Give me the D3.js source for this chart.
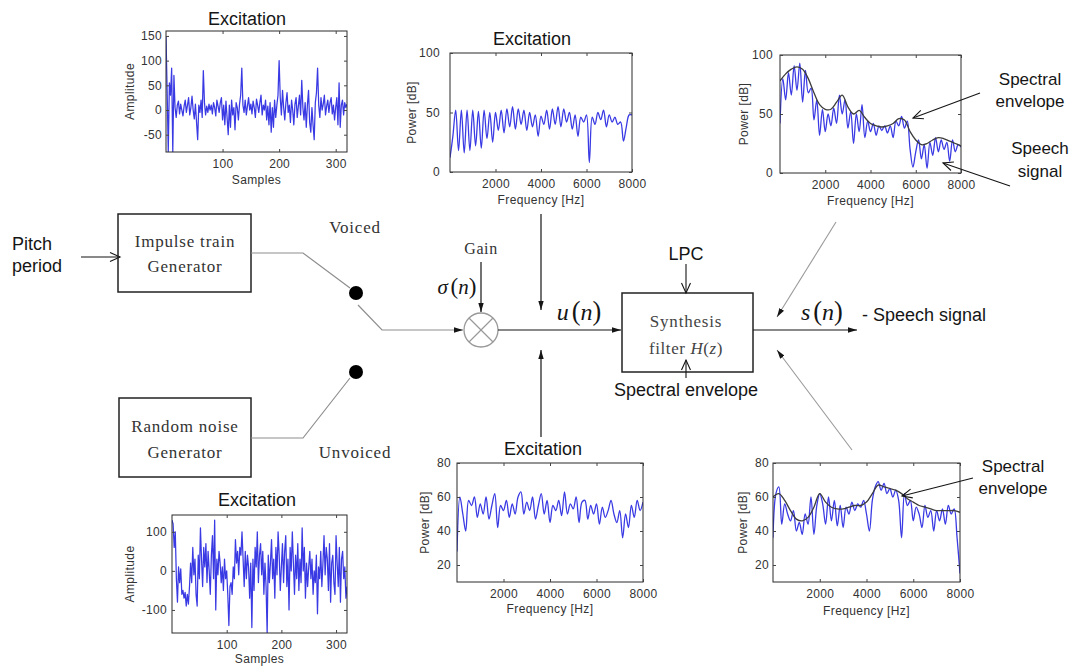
<!DOCTYPE html>
<html>
<head>
<meta charset="utf-8">
<script src="https://cdn.jsdelivr.net/npm/d3@7"></script>
<style>
  html, body { margin: 0; padding: 0; background: #ffffff; }
  svg { display: block; }
</style>
</head>
<body>
<svg id="fig" width="1089" height="668"></svg>
<script>
// ---------------------------------------------------------------
// Signals shown in the six small panels
// ---------------------------------------------------------------

// Voiced excitation, amplitude every 2nd sample (0..320)
const voicedSamples = [
  150, 40, -85, 55, 30, 85, -85, 70, 5, -15,
  10, 18, -8, 12, 0, -12, 8, 20, -5, 10,
  25, -10, 5, 28, 0, -18, 12, -25, -60, 10,
  -5, 20, -15, 80, 15, -10, 8, -5, 12, 0,
  10, -8, 15, 5, -12, 20, 8, -5, 15, 25,
  -20, 10, -30, 18, -15, -50, 10, -35, 20, -10,
  5, -40, 15, 5, -20, 12, 30, 85, 10, -5,
  20, -10, 8, 25, 0, 12, -8, 18, 5, -15,
  22, 10, -5, 15, 30, -10, 10, 0, 20, -20,
  8, -30, 15, -45, 5, -35, 20, -15, 10, 30,
  100, 25, -10, 40, 5, -20, 15, 35, -5, 10,
  -25, 20, 0, -30, 12, 25, -15, 8, 30, -10,
  60, 5, -20, 15, -35, 10, 40, -25, -45, 5,
  -30, -60, 15, 35, 85, 10, -15, 25, 0, 12,
  30, -10, 8, 20, -5, 15, 25, -8, 10, -20,
  5, 25, -30, 55, -35, 10, 20, -10, 15, 5,
  12
];

// Unvoiced (noise) excitation, amplitude every 2nd sample (0..320)
const noiseSamples = [
  130, 120, 60, 100, -20, -80, 10, -30, 5, -60,
  -50, -70, -55, -90, -60, -85, -40, 20, -30, 60,
  -10, 30, -60, -90, 40, -20, 110, 30, -40, 60,
  10, 70, -30, 50, 0, -60, 40, 90, -20, 130,
  -100, 30, -10, 50, 20, -30, 10, -50, 30, -20,
  0, -60, -140, -40, -30, -60, 10, -20, 80, 20,
  50, -10, 60, 40, 100, 30, -40, 50, -20, 40,
  10, -70, 20, -145, 30, -50, 60, 10, 100, -30,
  40, 70, -10, 50, -60, 20, -40, -160, 40, -30,
  20, 80, -20, 30, -70, 60, -10, 100, 40, -50,
  10, 70, -30, 50, 90, -40, 30, -100, 60, 0,
  100, 20, -60, 40, -20, 70, -50, 30, -30, 110,
  0, 60, -70, 20, -40, 10, 50, -20, 30, -60,
  0, -30, 40, -110, 10, -20, 50, -40, 20, 90,
  -10, 60, 30, -50, 70, -80, 20, 40, -30, -60,
  90, 20, -40, 60, -80, 30, 50, -20, 10, -70,
  -40
];

// Power spectra in dB, one value every 125 Hz (0..8000 Hz)
const exciteVoicedDb = [
  12, 30, 52, 18, 52, 16, 52, 18, 52, 22,
  51, 20, 52, 28, 50, 25, 50, 35, 52, 33,
  53, 38, 55, 36, 53, 40, 52, 35, 50, 38,
  48, 30, 47, 40, 52, 36, 53, 40, 55, 38,
  53, 42, 50, 36, 48, 30, 46, 42, 48, 8,
  46, 40, 50, 44, 52, 38, 48, 42, 46, 40,
  42, 26, 38, 48, 48
];
const exciteNoiseDb = [
  28, 60, 50, 40, 58, 55, 60, 48, 56, 50,
  60, 47, 55, 62, 42, 55, 52, 58, 48, 56,
  50, 60, 63, 50, 57, 52, 60, 47, 55, 62,
  50, 58, 45, 55, 52, 58, 49, 63, 50, 56,
  53, 60, 45, 57, 58, 47, 55, 50, 56, 44,
  54, 48, 52, 58, 50, 45, 52, 36, 50, 42,
  55, 48, 58, 52, 57
];
const speechVoicedDb = [
  42, 80, 62, 85, 66, 91, 70, 93, 60, 87,
  68, 72, 45, 62, 32, 54, 35, 50, 40, 55,
  42, 66, 50, 62, 38, 52, 25, 50, 35, 58,
  30, 44, 35, 42, 32, 40, 36, 40, 34, 40,
  30, 44, 40, 48, 38, 44, 20, 5, 18, 28,
  12, 24, 4, 26, 15, 30, 18, 28, 20, 26,
  10, 28, 18, 24, 22
];
const speechUnvoicedDb = [
  36, 62, 66, 44, 56, 50, 46, 52, 40, 45,
  38, 50, 44, 60, 38, 55, 62, 56, 44, 60,
  46, 58, 43, 55, 42, 54, 50, 57, 52, 56,
  54, 58, 50, 40, 58, 66, 69, 64, 68, 62,
  65, 60, 64, 58, 36, 62, 55, 58, 46, 54,
  50, 42, 55, 48, 52, 40, 52, 46, 53, 44,
  55, 50, 53, 36, 15
];

// LPC spectral envelopes in dB, one value every 250 Hz (0..8000 Hz)
const envVoicedDb = [
  78, 84, 88, 90, 88, 80, 68, 58, 54, 54,
  60, 66, 56, 50, 53, 47, 42, 40, 39, 40,
  42, 46, 45, 35, 28, 24, 25, 28, 30, 29,
  27, 25, 23
];
const envUnvoicedDb = [
  60, 62, 58, 52, 47, 46, 48, 54, 62, 57,
  54, 53, 53, 54, 55, 55, 57, 62, 67, 66,
  65, 64, 62, 59, 57, 55, 54, 53, 52, 52,
  52, 52, 51
];

// Axis ticks
const sampleTicks = [100, 200, 300];
const freqTicks = [2000, 4000, 6000, 8000];
const voicedAmpTicks = [-50, 0, 50, 100, 150];
const noiseAmpTicks = [-100, 0, 100];
const power100Ticks = [0, 50, 100];
const power80Ticks = [20, 40, 60, 80];

const SAMPLE_STEP = 2;
const SPEC_STEP = 125;
const ENV_STEP = 250;

// ---------------------------------------------------------------
const SANS = "'Liberation Sans', Arial, Helvetica, sans-serif";
const SERIF = "'Liberation Serif', 'Times New Roman', serif";
const INK = "#151515";
const BLUE = "#3a3ae4";
const ENV = "#3c3c3c";
const GREY = "#8e8e8e";

const svg = d3.select("#fig");
const defs = svg.append("defs");

// arrow heads
function filledHead(id, color) {
  defs.append("marker")
    .attr("id", id)
    .attr("viewBox", "0 0 10 6")
    .attr("refX", 10).attr("refY", 3)
    .attr("markerWidth", 9).attr("markerHeight", 5.4)
    .attr("markerUnits", "userSpaceOnUse")
    .attr("orient", "auto")
    .append("path").attr("d", "M0,0L10,3L0,6Z").attr("fill", color);
}
function openHead(id, color) {
  defs.append("marker")
    .attr("id", id)
    .attr("viewBox", "0 0 10 10")
    .attr("refX", 10).attr("refY", 5)
    .attr("markerWidth", 10).attr("markerHeight", 10)
    .attr("markerUnits", "userSpaceOnUse")
    .attr("orient", "auto")
    .attr("overflow", "visible")
    .append("path").attr("d", "M0,0.5L10,5L0,9.5")
    .attr("fill", "none").attr("stroke", color).attr("stroke-width", 1.1);
}
filledHead("head-fill", INK);
openHead("head-open", INK);

// ---------------------------------------------------------------
// Small MATLAB-style panels
// ---------------------------------------------------------------
function drawPanel(p) {
  const x = d3.scaleLinear().domain(p.xDomain).range([p.left, p.right]);
  const y = d3.scaleLinear().domain(p.yDomain).range([p.bottom, p.top]);
  const g = svg.append("g").attr("class", "panel");

  const clipId = "clip-" + p.id;
  defs.append("clipPath").attr("id", clipId).append("rect")
    .attr("x", p.left).attr("y", p.top)
    .attr("width", p.right - p.left).attr("height", p.bottom - p.top);

  const plot = g.append("g").attr("clip-path", `url(#${clipId})`);
  p.series.forEach(s => {
    const line = d3.line()
      .x((d, i) => x(i * s.step))
      .y(d => y(d))
      .curve(s.curve || d3.curveLinear);
    plot.append("path")
      .datum(s.values)
      .attr("d", line)
      .attr("fill", "none")
      .attr("stroke", s.color)
      .attr("stroke-width", s.width)
      .attr("stroke-opacity", s.opacity || 1)
      .attr("stroke-linejoin", "round");
  });

  g.append("rect")
    .attr("x", p.left).attr("y", p.top)
    .attr("width", p.right - p.left).attr("height", p.bottom - p.top)
    .attr("fill", "none").attr("stroke", "#2a2a2a").attr("stroke-width", 1);

  const fmt = d => String(d);
  const axB = g.append("g").attr("transform", `translate(0,${p.bottom})`)
    .call(d3.axisBottom(x).tickValues(p.xTicks).tickSizeInner(-3).tickSizeOuter(0).tickPadding(7.5).tickFormat(fmt));
  const axT = g.append("g").attr("transform", `translate(0,${p.top})`)
    .call(d3.axisTop(x).tickValues(p.xTicks).tickSizeInner(-3).tickSizeOuter(0).tickFormat(""));
  const axL = g.append("g").attr("transform", `translate(${p.left},0)`)
    .call(d3.axisLeft(y).tickValues(p.yTicks).tickSizeInner(-3).tickSizeOuter(0).tickPadding(p.yPad).tickFormat(fmt));
  const axR = g.append("g").attr("transform", `translate(${p.right},0)`)
    .call(d3.axisRight(y).tickValues(p.yTicks).tickSizeInner(-3).tickSizeOuter(0).tickFormat(""));
  [axB, axT, axL, axR].forEach(a => {
    a.select(".domain").remove();
    a.selectAll(".tick line").attr("stroke", "#444");
    a.selectAll(".tick text")
      .attr("font-family", SANS).attr("font-size", 12)
      .attr("fill", "#333").attr("letter-spacing", 0.3);
  });

  // axis titles
  g.append("text")
    .attr("x", (p.left + p.right) / 2).attr("y", p.bottom + p.xLabelDy)
    .attr("text-anchor", "middle")
    .attr("font-family", SANS).attr("font-size", 12).attr("letter-spacing", 0.4)
    .attr("fill", "#333").text(p.xLabel);
  g.append("text")
    .attr("transform", `translate(${p.left - p.yLabelDx},${(p.top + p.bottom) / 2}) rotate(-90)`)
    .attr("text-anchor", "middle")
    .attr("font-family", SANS).attr("font-size", 12).attr("letter-spacing", 0.4)
    .attr("fill", "#333").text(p.yLabel);

  if (p.title) {
    g.append("text")
      .attr("x", p.title.x).attr("y", p.title.y)
      .attr("text-anchor", "middle")
      .attr("font-family", SANS).attr("font-size", 18)
      .attr("fill", INK).text(p.title.text);
  }
}

// voiced excitation, time domain
drawPanel({
  id: "voiced-time", left: 166, right: 347, top: 31, bottom: 152,
  xDomain: [0, 320], yDomain: [-85, 160],
  xTicks: sampleTicks, yTicks: voicedAmpTicks, yPad: 4,
  xLabel: "Samples", xLabelDy: 32, yLabel: "Amplitude", yLabelDx: 32,
  title: { text: "Excitation", x: 247, y: 25 },
  series: [{ values: voicedSamples, step: SAMPLE_STEP, color: BLUE, width: 1.25 }]
});

// voiced excitation spectrum
drawPanel({
  id: "voiced-spec", left: 450, right: 632, top: 53, bottom: 172,
  xDomain: [0, 8000], yDomain: [0, 100],
  xTicks: freqTicks, yTicks: power100Ticks, yPad: 10,
  xLabel: "Frequency [Hz]", xLabelDy: 32, yLabel: "Power [dB]", yLabelDx: 34,
  title: { text: "Excitation", x: 532, y: 45 },
  series: [{ values: exciteVoicedDb, step: SPEC_STEP, color: BLUE, width: 1.3, curve: d3.curveCatmullRom }]
});

// voiced speech spectrum with envelope
drawPanel({
  id: "speech-voiced", left: 780, right: 961, top: 55, bottom: 173,
  xDomain: [0, 8000], yDomain: [0, 100],
  xTicks: freqTicks, yTicks: power100Ticks, yPad: 7,
  xLabel: "Frequency [Hz]", xLabelDy: 32, yLabel: "Power [dB]", yLabelDx: 32,
  series: [
    { values: speechVoicedDb, step: SPEC_STEP, color: BLUE, width: 1.3, curve: d3.curveCatmullRom },
    { values: envVoicedDb, step: ENV_STEP, color: ENV, width: 1.3, curve: d3.curveCatmullRom }
  ]
});

// noise excitation, time domain
drawPanel({
  id: "noise-time", left: 172, right: 347, top: 515, bottom: 633,
  xDomain: [0, 320], yDomain: [-159, 143],
  xTicks: sampleTicks, yTicks: noiseAmpTicks, yPad: 5,
  xLabel: "Samples", xLabelDy: 30, yLabel: "Amplitude", yLabelDx: 38,
  title: { text: "Excitation", x: 257, y: 506 },
  series: [{ values: noiseSamples, step: SAMPLE_STEP, color: BLUE, width: 1.25 }]
});

// noise excitation spectrum
drawPanel({
  id: "noise-spec", left: 457, right: 643, top: 463, bottom: 582,
  xDomain: [0, 8000], yDomain: [10, 80],
  xTicks: freqTicks, yTicks: power80Ticks, yPad: 6,
  xLabel: "Frequency [Hz]", xLabelDy: 31, yLabel: "Power [dB]", yLabelDx: 28,
  title: { text: "Excitation", x: 543, y: 455 },
  series: [{ values: exciteNoiseDb, step: SPEC_STEP, color: BLUE, width: 1.3, curve: d3.curveCatmullRom }]
});

// unvoiced speech spectrum with envelope
drawPanel({
  id: "speech-unvoiced", left: 773, right: 960, top: 463, bottom: 582,
  xDomain: [0, 8000], yDomain: [10, 80],
  xTicks: freqTicks, yTicks: power80Ticks, yPad: 4,
  xLabel: "Frequency [Hz]", xLabelDy: 33, yLabel: "Power [dB]", yLabelDx: 26,
  series: [
    { values: speechUnvoicedDb, step: SPEC_STEP, color: BLUE, width: 1.3, curve: d3.curveCatmullRom },
    { values: envUnvoicedDb, step: ENV_STEP, color: ENV, width: 1.3, curve: d3.curveCatmullRom }
  ]
});

// ---------------------------------------------------------------
// Source-filter block diagram
// ---------------------------------------------------------------
const poly = d3.line();
function wire(pts, opt = {}) {
  const p = svg.append("path")
    .attr("d", poly(pts))
    .attr("fill", "none")
    .attr("stroke", opt.color || INK)
    .attr("stroke-width", opt.width || 1.2);
  if (opt.head) p.attr("marker-end", `url(#${opt.head})`);
  return p;
}
function label(x, y, txt, opt = {}) {
  return svg.append("text")
    .attr("x", x).attr("y", y)
    .attr("text-anchor", opt.anchor || "middle")
    .attr("font-family", opt.family || SANS)
    .attr("font-size", opt.size || 18)
    .attr("letter-spacing", opt.spacing || 0)
    .attr("fill", opt.color || INK)
    .text(txt);
}
function box(x0, y0, x1, y1) {
  svg.append("rect")
    .attr("x", x0).attr("y", y0).attr("width", x1 - x0).attr("height", y1 - y0)
    .attr("fill", "none").attr("stroke", "#222").attr("stroke-width", 1.5);
}
function mathLabel(x, y, sym, size) {
  const t = svg.append("text")
    .attr("x", x).attr("y", y).attr("text-anchor", "middle")
    .attr("font-family", SERIF).attr("font-size", size).attr("fill", INK);
  t.append("tspan").attr("font-style", "italic").text(sym);
  t.append("tspan").attr("dx", size * 0.12).attr("font-size", size * 1.1).text("(");
  t.append("tspan").attr("font-style", "italic").text("n");
  t.append("tspan").attr("font-size", size * 1.1).text(")");
}

// pitch period input
label(12, 250, "Pitch", { anchor: "start" });
label(12, 272, "period", { anchor: "start" });
wire([[81, 257], [120, 257]], { head: "head-open", width: 1.1 });

// generators
box(118, 214, 251, 292);
label(185, 247, "Impulse train", { family: SERIF, size: 17, spacing: 0.8, color: "#333" });
label(185, 272, "Generator", { family: SERIF, size: 17, spacing: 0.8, color: "#333" });
box(119, 398, 251, 477);
label(185, 432, "Random noise", { family: SERIF, size: 17, spacing: 0.8, color: "#333" });
label(185, 458, "Generator", { family: SERIF, size: 17, spacing: 0.8, color: "#333" });

// voiced / unvoiced switch
wire([[251, 253], [303, 253], [350, 288]], { color: GREY, width: 1.2 });
wire([[251, 438], [303, 438], [350, 378]], { color: GREY, width: 1.2 });
svg.append("circle").attr("cx", 356).attr("cy", 293).attr("r", 7).attr("fill", "#000");
svg.append("circle").attr("cx", 356).attr("cy", 372).attr("r", 7).attr("fill", "#000");
wire([[358, 305], [382, 330], [463, 330]], { color: GREY, width: 1.2, head: "head-fill" });
label(355, 233, "Voiced", { family: SERIF, size: 17, spacing: 0.8, color: "#333" });
label(355, 458, "Unvoiced", { family: SERIF, size: 17, spacing: 0.8, color: "#333" });

// gain multiplier
const mx = 481, my = 330, mr = 17;
svg.append("circle").attr("cx", mx).attr("cy", my).attr("r", mr)
  .attr("fill", "none").attr("stroke", "#999").attr("stroke-width", 1.3);
const d = mr * Math.SQRT1_2;
wire([[mx - d, my - d], [mx + d, my + d]], { color: "#999", width: 1.2 });
wire([[mx - d, my + d], [mx + d, my - d]], { color: "#999", width: 1.2 });
label(mx, 254, "Gain", { family: SERIF, size: 16, spacing: 0.6, color: "#333" });
mathLabel(457, 294, "\u03C3", 21);
wire([[mx, 262], [mx, my - mr - 1]], { head: "head-fill" });

// excitation u(n)
wire([[mx + mr, my], [621, my]], { head: "head-fill" });
wire([[541, 214], [541, 310]], { head: "head-fill" });
wire([[541, 437], [541, 350]], { head: "head-fill" });
mathLabel(579, 320, "u", 24);

// synthesis filter
box(622, 293, 753, 372);
label(686, 327, "Synthesis", { family: SERIF, size: 17, spacing: 0.8, color: "#444" });
const ft = svg.append("text").attr("x", 686).attr("y", 354).attr("text-anchor", "middle")
  .attr("font-family", SERIF).attr("font-size", 17).attr("letter-spacing", 0.6).attr("fill", "#444");
ft.append("tspan").text("filter ");
ft.append("tspan").attr("font-style", "italic").text("H");
ft.append("tspan").text("(");
ft.append("tspan").attr("font-style", "italic").text("z");
ft.append("tspan").text(")");
label(686, 260, "LPC");
wire([[686, 264], [686, 293]], { head: "head-open", width: 1.1 });
label(686, 396, "Spectral envelope");
wire([[686, 378], [686, 360]], { head: "head-open", width: 1.1 });

// speech output s(n)
wire([[753, my], [857, my]], { head: "head-fill" });
mathLabel(822, 320, "s", 24);
label(862, 321, "- Speech signal", { anchor: "start" });

// links from the speech spectra to the output
wire([[836, 222], [777, 317]], { color: "#9a9a9a", width: 1.1, head: "head-fill" });
wire([[852, 450], [777, 350]], { color: "#9a9a9a", width: 1.1, head: "head-fill" });

// annotations on the spectra
label(1030, 85, "Spectral", { size: 17 });
label(1030, 107, "envelope", { size: 17 });
wire([[980, 93], [913, 118]], { head: "head-open", width: 1.1 });
label(1040, 154, "Speech", { size: 17 });
label(1040, 177, "signal", { size: 17 });
wire([[1010, 186], [943, 163]], { head: "head-open", width: 1.1 });
label(1013, 472, "Spectral", { size: 17 });
label(1013, 494, "envelope", { size: 17 });
wire([[973, 478], [902, 496]], { head: "head-open", width: 1.1 });
</script>
</body>
</html>
